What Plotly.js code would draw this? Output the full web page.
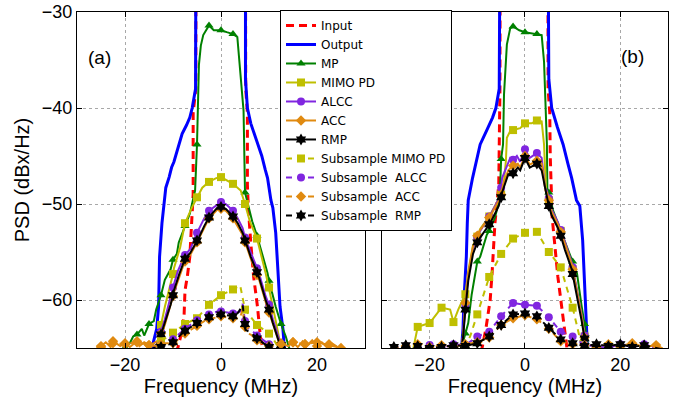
<!DOCTYPE html>
<html>
<head>
<meta charset="utf-8">
<script src="https://cdn.plot.ly/plotly-3.0.1.min.js"></script>
<style>html,body{margin:0;padding:0;background:#fff;}#chart{width:689px;height:399px;}</style>
</head>
<body>
<div id="chart"></div>
<script>
// ---------------- DATA (frequency in MHz, PSD in dBx/Hz) ----------------
// Panel (a)
var aInputF  = [-30,-20,-14,-10,-9,-8.5,-8,-7.7,-7.5,-7,-6.5,-6.1,-5.8,-5.8,-5.25,-5.2,5.1,5.15,5.5,5.5,5.7,6.2,6.8,7.3,7.6,8.2,8.7,10,14,20,30];
var aInputV  = [-67,-67,-67,-66,-65,-64,-62.8,-61.7,-59,-57.5,-55.5,-52,-49,-40.5,-38,-22,-22,-38,-40.5,-48,-50.5,-54,-57.6,-59.5,-60.7,-63.8,-65,-66,-67,-67,-67];
var aOutputF = [-30,-16,-14.4,-13.4,-13,-12.8,-12.3,-11.8,-11.5,-10.8,-10.3,-9.8,-9.2,-8.6,-8.1,-7.2,-6.5,-6,-5.3,-5.2,5.1,5.1,5.5,6.2,7,7.7,8.5,9.2,9.7,10.4,10.8,11.4,11.9,12.3,12.9,13.2,14.5,30];
var aOutputV = [-67,-67,-65,-63,-60.7,-55.5,-52,-49.5,-48.3,-47.2,-46.2,-45.6,-44.5,-43.6,-42.7,-41.8,-41,-40,-38,-18,-18,-37,-40,-41.6,-42.8,-43.8,-45,-46.4,-47.3,-49.6,-50.4,-53,-57.2,-60.7,-63,-65,-67,-67];
var aMPF = [-30,-22,-20,-19,-18.3,-17.5,-16.5,-16,-15,-14,-13.5,-12.5,-11.7,-10.5,-10,-9.2,-8.8,-7.5,-6.5,-5.4,-5,-4.6,-4.2,-3.7,-2.5,-1.5,0,1.2,2.5,3.4,4,4.7,5,5.5,6.5,7.5,8.8,9.7,10,11.4,12.5,13.5,14.2,16,30];
var aMPV = [-66,-66,-65,-64.5,-63.8,-63.6,-63,-63.7,-62.5,-62.2,-61,-59.5,-57.9,-56.8,-55.8,-55.2,-54,-52.3,-51,-48.6,-43.8,-35.5,-33.5,-32.4,-31.4,-31.9,-31.9,-32.1,-32.3,-32.6,-36,-40.3,-48.8,-49.8,-51.8,-53.3,-55.5,-57.2,-58,-60.7,-62.5,-63.8,-65,-66,-66];
var aMIMOF = [-30,-16,-14,-13.5,-13,-12.5,-11.7,-10,-9.8,-8.5,-7.5,-6,-5,-4.3,-3.9,-2.5,-1,0,1,2.5,4.1,4.7,5,6,7.5,9.3,10,10.8,11.9,12.5,14,30];
var aMIMOV = [-66,-66,-65.5,-65,-63.8,-62.6,-60.7,-57.3,-56.7,-54.5,-52,-50.3,-49.3,-48.6,-48.3,-47.7,-47.3,-47.2,-47.5,-47.9,-48.6,-49.5,-50,-51.8,-53.6,-57.2,-58.7,-60.7,-63.4,-65,-66,-66];
var aALCCF = [-30,-16,-14,-13,-12.5,-11.7,-10,-9,-7.5,-6.4,-5,-3.5,-2.5,-1.2,0,1,2.5,3.5,4.5,5,6.2,7.5,7.9,9.3,10,10.8,12.1,12.5,13,15,30];
var aALCCV = [-66,-66,-65.2,-64.2,-63.3,-62,-58.7,-57,-55.3,-54.7,-53,-51.5,-50.7,-50.2,-49.8,-50,-50.7,-51.5,-52.5,-53.5,-55,-56.7,-57.2,-59.6,-60.5,-62,-64.2,-64.8,-65.5,-66,-66];
var aACCF = [-30,-26,-25,-24,-23,-22.5,-21,-20,-19,-17.5,-17,-16,-15,-14,-13,-12.5,-11.7,-10,-9.8,-7.7,-7.5,-6.4,-5,-4.6,-2.5,-0.8,0,1,2.5,2.6,4.5,5,6.2,7.5,7.9,9.3,10,10.8,12.1,12.5,13,14,15,16,17,17.5,18,19,20,21,22,22.5,23,24,25,30];
var aACCV = [-65.6,-65.3,-64.8,-64.4,-64.9,-64.3,-64.8,-64.5,-64.9,-64.3,-64.8,-64.4,-64.7,-64.5,-64.2,-63.5,-62.6,-59.6,-59.2,-56.2,-56,-55.3,-54,-53.6,-51.5,-50.6,-50.5,-50.7,-51.5,-51.6,-53.2,-54,-55.7,-57.4,-57.8,-60.2,-61.3,-62.6,-64.4,-64.5,-64.6,-64.8,-64.4,-64.9,-64.3,-64.6,-64.7,-64.2,-64.8,-64.4,-64.9,-64.6,-64.5,-64.8,-65.3,-65.6];
var aRMPF = [-30,-16,-14,-13,-12.5,-11.7,-10.5,-10,-9.8,-8.7,-7.7,-7.5,-6.4,-5.5,-5,-4.6,-3.5,-2.5,-1.5,-0.8,0,1,2.5,3.5,4.5,5,5.3,6.2,7.5,7.9,9.3,10,10.8,12.1,12.5,13,15,30];
var aRMPV = [-66,-66,-65,-64.4,-63.6,-62.4,-60.5,-59.5,-59,-57.3,-55.9,-55.7,-55.1,-54.3,-53.8,-53.5,-52.3,-51.4,-50.8,-50.4,-50.3,-50.5,-51.3,-52,-53,-53.8,-54.2,-55.5,-57.1,-57.6,-60,-61,-62.4,-64.4,-64.7,-65.2,-66,-66];
var aSubMIMOF = [-30,-16,-14,-13,-12.5,-10,-7.5,-5,-2.5,0,2.5,4,5,7.5,10,10.4,12,14,30];
var aSubMIMOV = [-67,-67,-66,-65,-64.3,-63.4,-62.5,-61.9,-60.5,-59.5,-58.9,-58.5,-61,-62.6,-63.5,-63.6,-65,-66,-67];
var aSubALCCF = [-30,-15,-13.4,-12.5,-12,-10,-9.8,-7.5,-5.6,-5,-3.5,-2.5,-0.8,0,2.5,4,4.5,5,5.1,6.2,7.5,8.3,10,10.4,11,13,30];
var aSubALCCV = [-67,-66,-65,-64.7,-64.6,-64.1,-64,-63,-62.3,-62.1,-61.7,-61.5,-61.2,-61.2,-61.4,-61.2,-60.4,-62.2,-62.8,-63.1,-63.7,-64,-64.6,-64.8,-65.2,-66,-67];
var aSubACCF = [-30,-25,-22.5,-20,-17.5,-15,-13.4,-12.5,-12,-10,-9.8,-7.5,-5.6,-5,-3.5,-2.5,-0.8,0,2.5,4,4.5,5,5.1,6.2,7.5,8.3,10,10.4,12.5,15,17.5,20,22.5,25,30];
var aSubACCV = [-65.6,-64.9,-64.5,-64.6,-64.4,-64.7,-64.8,-64.6,-64.5,-64.5,-64.5,-63.5,-62.9,-62.7,-62.2,-62,-61.8,-61.7,-61.9,-61.8,-61,-62.8,-63.4,-63.6,-64.2,-64.5,-64.8,-64.9,-64.6,-64.4,-64.6,-64.4,-64.7,-65,-65.6];
var aSubRMPF = [-30,-15,-13.4,-12.5,-12,-10,-9.8,-7.5,-5.6,-5,-3.5,-2.5,-0.8,0,1.2,2.5,3.6,4.5,5,5.1,6.2,7.5,8.3,10,10.4,11,13,30];
var aSubRMPV = [-67,-66,-65,-64.9,-64.8,-64.4,-64.3,-63.2,-62.6,-62.4,-62,-61.8,-61.5,-61.5,-61.6,-61.7,-61.3,-60.5,-62.5,-63.1,-63.4,-64,-64.3,-64.9,-65,-65.5,-66,-67];

// Panel (b)
var bInputF  = [-30,-14,-10,-9,-8.2,-7.3,-6.9,-6.3,-5.5,-5.4,-5.25,-5.2,4.8,4.85,5.2,5.3,5.7,6.3,6.9,7.7,8.4,8.8,10,14,30];
var bInputV  = [-67,-67,-66,-65,-63,-60,-57.2,-52,-48,-40.5,-38,-22,-22,-38,-40.5,-45,-51.4,-54.5,-57.6,-60.7,-63.8,-65,-66,-67,-67];
var bOutputF = [-30,-15,-13.3,-13,-12.8,-12.3,-12.1,-11.9,-11,-10.2,-9.4,-8,-6.8,-6.1,-5.4,-5.2,4.8,5,5.6,6.8,8,9,9.8,10.8,11.5,12.1,12.5,12.9,13.1,14.5,30];
var bOutputV = [-67,-67,-65,-63,-60,-55.5,-52,-49.6,-47.3,-45.6,-43.8,-42.3,-41,-40,-38,-18,-18,-37,-40,-42,-43.8,-45.8,-47.3,-49.6,-50.2,-53.8,-59,-63,-65,-67,-67];
var bMPF = [-30,-15,-13.5,-12.5,-12.2,-11.9,-11.2,-10.5,-10,-9.4,-8,-7.5,-6.3,-5.3,-5,-4.6,-4.4,-3.8,-3.1,-2.5,-1.2,0,1.2,2.5,3.5,4,4.6,4.7,5,5.9,7.5,8.4,10,10.9,11.9,12.5,12.9,13.3,15,30];
var bMPV = [-66,-66,-65.3,-63.5,-63.2,-62.4,-59.5,-57.2,-56,-55.5,-53.2,-52.8,-51.4,-49.5,-45.3,-43.8,-38.6,-33.4,-31.7,-31.5,-31.9,-32.1,-32.2,-32.3,-32.4,-35.2,-43.8,-48.6,-48.8,-50.7,-52.8,-53.8,-56,-57.2,-60.7,-62.5,-63.8,-65,-66,-66];
var bMIMOF = [-30,-24.5,-23.4,-22.5,-20,-17.5,-15.7,-15,-14,-13,-12.5,-11.9,-10.9,-10,-9.4,-7.5,-5.2,-5,-4.6,-4,-3.8,-3.1,-2.5,-1,0,1.4,2.5,3.5,4,4.4,4.6,5,5.6,6.9,7.5,8.4,9.8,10,10.9,11.9,12.5,13,15,30];
var bMIMOV = [-66,-66,-65,-62.8,-62.4,-60.8,-61,-62.3,-61,-60,-59.4,-57,-54.3,-53.4,-52.6,-51.3,-49.3,-49,-48.6,-45.5,-43.1,-42.4,-42.3,-42.1,-41.6,-41.6,-41.3,-41.4,-43.8,-48.6,-48.8,-49.6,-50.7,-52,-52.8,-54.1,-56.2,-56.8,-59,-61.7,-63.8,-65,-66,-66];
var bALCCF = [-30,-15,-13.5,-13,-12.5,-11.9,-10.9,-10,-9.4,-7.5,-7.3,-5.2,-5,-4.8,-3.1,-2.5,-1.7,-1,0,1,2.5,3.5,4.2,4.6,5,5.6,6.9,7.5,8.4,9.8,10,10.9,11.9,12.5,13,15,30];
var bALCCV = [-66,-66,-65.2,-64,-60.5,-57.5,-54.6,-53.5,-52.8,-51.3,-51.2,-49.2,-48.3,-47.3,-45.2,-45.4,-45,-45.6,-44.3,-45.2,-44.7,-45.2,-48.3,-48.6,-49.4,-50.6,-51.9,-52.7,-54,-56.1,-56.6,-58.9,-61.6,-63.7,-65,-66,-66];
var bACCF = [-30,-15,-13.5,-13,-12.5,-11.9,-10.9,-10,-9.4,-7.5,-7.3,-5.2,-5,-4.6,-3.5,-2.5,-1.5,-1,0,1,2.5,3.5,4.3,4.6,5,5.6,6.9,7.5,8.4,9.8,10,10.9,11.9,12.5,13,15,30];
var bACCV = [-66,-66,-65.2,-63.8,-60.3,-57.3,-54.4,-53.3,-52.7,-51.4,-51.3,-49.4,-49,-48,-46.5,-46,-45.8,-46.2,-45,-45.9,-45.5,-45.8,-48.6,-48.8,-49.6,-50.8,-52.1,-52.9,-54.2,-56.3,-56.8,-59.1,-61.8,-63.9,-65,-66,-66];
var bRMPF = [-30,-15,-13.5,-13,-12.5,-11.9,-10.9,-10,-9.4,-7.5,-7.3,-5.5,-5,-4.8,-3.5,-2.5,-1.5,-1,0,1,2.5,3.5,4.5,5,5.6,6.9,7.5,8.4,9.8,10,10.9,11.9,12.5,13,15,30];
var bRMPV = [-66,-66,-65.2,-64,-61,-58,-55.2,-54,-53.5,-52.1,-52,-50.2,-49.3,-48.8,-46.9,-46.8,-46.2,-46.5,-45.2,-46.2,-45.8,-46.5,-49,-50.2,-51.2,-52.5,-53.3,-54.8,-56.8,-57.3,-59.5,-62.2,-64,-65.2,-66,-66];
var bSubMIMOF = [-30,-14,-13,-12.5,-11.5,-10,-8,-7.5,-5,-2.5,0,2.5,5,7.5,10,11.2,12,12.5,15,17.5,20,30];
var bSubMIMOV = [-66,-66,-65.5,-64.8,-63.8,-61.5,-58.2,-57.6,-55.2,-53.6,-53,-52.9,-55,-56.6,-60.8,-63.5,-65,-65.2,-65.3,-64.8,-65.3,-66];
var bSubALCCF = [-30,-25,-22.5,-20,-17.5,-15,-12.5,-10,-7.5,-5,-2.5,0,2.5,5,7.5,10,12.5,15,17.5,20,22.5,25,27.5,30];
var bSubALCCV = [-65.3,-64.8,-65,-64.7,-65,-64.6,-64.7,-63.8,-63.3,-61.7,-60.3,-60.5,-60.6,-61.8,-63.3,-63.8,-64.7,-64.8,-65,-64.6,-64.9,-64.6,-64.9,-65.3];
var bSubACCF = [-30,-25,-22.5,-20,-17.5,-15,-12.5,-10,-7.5,-5,-2.5,0,2.5,5,7.5,10,12.5,15,17.5,20,22.5,25,27.5,30];
var bSubACCV = [-65.3,-64.8,-64.6,-64.9,-64.7,-64.9,-64.6,-64.4,-63.9,-62.6,-61.9,-61.6,-62,-63,-64.3,-64.6,-64.7,-64.9,-64.6,-64.8,-64.5,-64.9,-64.7,-65.3];
var bSubRMPF = [-30,-27.5,-25,-22.5,-20,-17.5,-15,-12.5,-10,-7.5,-5,-2.5,0,2.5,5,7.5,10,12.5,15,17.5,20,22.5,25,30];
var bSubRMPV = [-65.3,-64.9,-64.7,-64.8,-65,-64.9,-64.7,-64.8,-64.5,-63.8,-62.6,-61.5,-61.4,-61.7,-62.9,-64.1,-64.5,-64.8,-64.6,-64.8,-64.6,-64.9,-64.7,-65.3];

var seriesNames = ['Input','Output','MP','MIMO PD','ALCC','ACC','RMP',
  'Subsample MIMO PD','Subsample  ALCC','Subsample  ACC','Subsample  RMP'];
var xTickVals = [-20, 0, 20];
var yTickVals = [-60, -50, -40, -30];

// ---------------- STYLES ----------------
var styles = [
  {color:'#ff0000', width:3, dash:'8px,5px', symbol:null},
  {color:'#0000ff', width:3, dash:'solid', symbol:null},
  {color:'#008000', width:2, dash:'solid', symbol:'triangle-up'},
  {color:'#bfbf00', width:2, dash:'solid', symbol:'square'},
  {color:'#8026e0', width:2, dash:'solid', symbol:'circle'},
  {color:'#e08a10', width:2, dash:'solid', symbol:'diamond'},
  {color:'#000000', width:2, dash:'solid', symbol:'hexagram'},
  {color:'#bfbf00', width:2, dash:'6px,5px', symbol:'square'},
  {color:'#8026e0', width:2, dash:'6px,5px', symbol:'circle'},
  {color:'#e08a10', width:2, dash:'6px,5px', symbol:'diamond'},
  {color:'#000000', width:2, dash:'6px,5px', symbol:'hexagram'}
];

var panelA = [[aInputF,aInputV],[aOutputF,aOutputV],[aMPF,aMPV],[aMIMOF,aMIMOV],[aALCCF,aALCCV],[aACCF,aACCV],[aRMPF,aRMPV],[aSubMIMOF,aSubMIMOV],[aSubALCCF,aSubALCCV],[aSubACCF,aSubACCV],[aSubRMPF,aSubRMPV]];
var panelB = [[bInputF,bInputV],[bOutputF,bOutputV],[bMPF,bMPV],[bMIMOF,bMIMOV],[bALCCF,bALCCV],[bACCF,bACCV],[bRMPF,bRMPV],[bSubMIMOF,bSubMIMOV],[bSubALCCF,bSubALCCV],[bSubACCF,bSubACCV],[bSubRMPF,bSubRMPV]];

function markerIdx(f) {
  var idx = [];
  for (var i = 0; i < f.length; i++) {
    var q = f[i] / 2.5;
    if (Math.abs(q - Math.round(q)) < 1e-6 && Math.abs(f[i]) < 29) idx.push(i);
  }
  return idx;
}

function makeTrace(pair, k, xa, ya, showLegend) {
  var s = styles[k];
  var t = {
    x: pair[0], y: pair[1], name: seriesNames[k], xaxis: xa, yaxis: ya,
    type: 'scatter', showlegend: showLegend, hoverinfo: 'skip',
    line: {color: s.color, width: s.width, dash: s.dash}
  };
  if (s.symbol) {
    t.mode = 'lines+markers';
    t.marker = {symbol: s.symbol, size: s.symbol === 'hexagram' ? 9 : 8, color: s.color, line: {width: 0}};
    t.selectedpoints = markerIdx(pair[0]);
    t.selected = {marker: {opacity: 1}};
    t.unselected = {marker: {opacity: 0}};
  } else {
    t.mode = 'lines';
  }
  return t;
}

var data = [];
panelA.forEach(function(p, k) { data.push(makeTrace(p, k, 'x', 'y', true)); });
panelB.forEach(function(p, k) { data.push(makeTrace(p, k, 'x2', 'y2', false)); });

var tickFont = {family: 'Liberation Sans, Arial, sans-serif', size: 18, color: '#000'};
var axisCommon = {
  showline: true, linecolor: '#000', linewidth: 1, mirror: 'ticks',
  ticks: 'inside', ticklen: 5, tickcolor: '#000', tickwidth: 1,
  showgrid: true, gridcolor: '#a8a8a8', gridwidth: 1, griddash: 'dot',
  zeroline: false, tickfont: tickFont, fixedrange: true
};
function ax(extra) { return Object.assign({}, axisCommon, extra); }

var titleFont = {family: 'Liberation Sans, Arial, sans-serif', size: 20, color: '#000'};

var layout = {
  width: 689, height: 399,
  margin: {l: 77, r: 21, t: 10, b: 51},
  paper_bgcolor: '#fff', plot_bgcolor: '#fff',
  font: {family: 'Liberation Sans, Arial, sans-serif', color: '#000'},
  xaxis: ax({domain: [0, 0.4873], range: [-30, 30], tickvals: xTickVals, anchor: 'y',
    title: {text: 'Frequency (MHz)', font: titleFont, standoff: 3}}),
  yaxis: ax({domain: [0, 1], range: [-65, -30], tickvals: yTickVals, anchor: 'x',
    title: {text: 'PSD (dBx/Hz)', font: titleFont, standoff: 6}}),
  xaxis2: ax({domain: [0.516, 1], range: [-30, 30], tickvals: xTickVals, anchor: 'y2',
    title: {text: 'Frequency (MHz)', font: titleFont, standoff: 3}}),
  yaxis2: ax({domain: [0, 1], range: [-65, -30], tickvals: yTickVals, anchor: 'x2', showticklabels: false}),
  showlegend: true,
  legend: {
    x: 0.3435, y: 1.006, xanchor: 'left', yanchor: 'top',
    bgcolor: '#fff', bordercolor: '#000', borderwidth: 1,
    font: {family: 'DejaVu Sans, Liberation Sans, sans-serif', size: 12, color: '#000'},
    tracegroupgap: 0, traceorder: 'normal', maxheight: 380
  },
  annotations: [
    {xref: 'x', yref: 'y', x: -25.4, y: -34.7, text: '(a)', showarrow: false,
     font: {family: 'Liberation Sans, Arial, sans-serif', size: 19, color: '#000'}},
    {xref: 'x2', yref: 'y2', x: 22.6, y: -34.6, text: '(b)', showarrow: false,
     font: {family: 'Liberation Sans, Arial, sans-serif', size: 19, color: '#000'}}
  ]
};

Plotly.newPlot('chart', data, layout, {staticPlot: true, displayModeBar: false});
</script>
</body>
</html>
